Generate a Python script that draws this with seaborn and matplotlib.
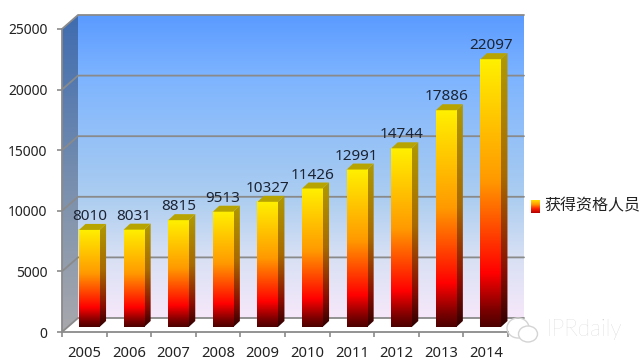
# bar chart of qualified people per year, drawn to look like a 3d excel chart
import numpy as np
import matplotlib
matplotlib.use('Agg')
import matplotlib.pyplot as plt
from matplotlib.colors import LinearSegmentedColormap
from matplotlib.patches import Polygon, Ellipse
from matplotlib.transforms import IdentityTransform
import seaborn as sns

# chart data
years = ['2005', '2006', '2007', '2008', '2009', '2010', '2011', '2012', '2013', '2014']
people = [8010, 8031, 8815, 9513, 10327, 11426, 12991, 14744, 17886, 22097]
y_ticks = [0, 5000, 10000, 15000, 20000, 25000]
legend_label = '获得资格人员'

sns.set_theme(style='white')
plt.rcParams['font.family'] = ['Noto Sans', 'Noto Sans CJK SC', 'DejaVu Sans']

W, H = 642, 362
fig = plt.figure(figsize=(W / 100, H / 100), dpi=100, facecolor='white')
ax = fig.add_axes([62 / W, 1 - 332 / H, 446 / W, 303 / H])
ax.patch.set_visible(False)

GRID = '#8a8a8a'
back_dx, back_dy = 16, 14   # back wall offset in pixels
bar_dx, bar_dy = 5, 5       # bars stand a bit behind the front edge
side_dx, side_dy = 6.5, 6   # depth of each bar

face = LinearSegmentedColormap.from_list('face', [(0, '#4d0000'), (0.06, '#7a0000'), (0.2, '#ff0000'),
                                                  (0.55, '#ff9a00'), (1, '#fff000')])
side = LinearSegmentedColormap.from_list('side', [(0, '#2e0000'), (0.2, '#8a0c00'),
                                                  (0.55, '#a86a00'), (1, '#b09a00')])
wall = LinearSegmentedColormap.from_list('wall', [(0, '#f6e8fa'), (0.2, '#d8e0f4'), (0.4, '#abcdf0'),
                                                  (0.8, '#7db4ff'), (1, '#5b9bff')])
left_wall = LinearSegmentedColormap.from_list('left_wall', [(0, '#a8a8ac'), (0.4, '#7f93ae'), (1, '#3f6cb0')])
grad = np.linspace(1, 0, 256).reshape(-1, 1)

sns.barplot(x=years, y=people, color='#ff9a00', width=0.46, ax=ax, zorder=3)
ax.set_xlim(-0.5, 9.5)
ax.set_ylim(0, 25000)
ax.set_xlabel('')
ax.set_ylabel('')


def px(x, y, dx=0, dy=0):
    p = ax.transData.transform((x, y))
    return p[0] + dx, p[1] + dy


def gradient(cmap, x0, x1, y0, y1, z, clip=None):
    im = ax.imshow(grad, cmap=cmap, vmin=0, vmax=1, extent=(x0, x1, y0, y1), aspect='auto',
                   transform=IdentityTransform(), zorder=z)
    if clip is not None:
        im.set_clip_path(clip)
        im.set_clip_box(fig.bbox)  # otherwise the image stops at the axes box
    else:
        im.set_clip_on(False)
    return im


def poly(points, z, **kw):
    p = Polygon(points, closed=True, transform=IdentityTransform(), zorder=z, clip_on=False, **kw)
    ax.add_patch(p)
    return p


# walls
x0, y0 = px(-0.5, 0)
x1, y1 = px(9.5, 25000)
gradient(wall, x0 + back_dx, x1 + back_dx, y0 + back_dy, y1 + back_dy, 0)
lw_clip = poly([(x0, y0), (x0 + back_dx, y0 + back_dy), (x0 + back_dx, y1 + back_dy), (x0, y1)], 0,
               facecolor='none', edgecolor='none')
gradient(left_wall, x0, x0 + back_dx, y0, y1 + back_dy, 0.1, clip=lw_clip)

# floor
poly([(x0, y0), (x0 + back_dx, y0 + back_dy), (x1 + back_dx, y0 + back_dy), (x1, y0)], 0.2,
     facecolor='white', edgecolor='none')

# gridlines on back wall and left wall
for t in y_ticks:
    _, yy = px(0, t)
    ax.plot([x0, x0 + back_dx, x1 + back_dx], [yy, yy + back_dy, yy + back_dy], color=GRID, lw=1.3,
            transform=IdentityTransform(), zorder=0.5, clip_on=False)

# bars, gradient on the front and darker faces on the side and top
for patch, value in zip(ax.patches, people):
    xc = patch.get_x() + patch.get_width() / 2
    patch.set_visible(False)
    l, b = px(patch.get_x(), 0, bar_dx, bar_dy)
    r, t = px(patch.get_x() + patch.get_width(), value, bar_dx, bar_dy)
    gradient(face, l, r, b, t, 3)
    side_clip = poly([(r, b), (r + side_dx, b + side_dy), (r + side_dx, t + side_dy), (r, t)], 2.9,
                     facecolor='none', edgecolor='none')
    gradient(side, r, r + side_dx, b, t + side_dy, 2.8, clip=side_clip)
    poly([(l, t), (l + side_dx, t + side_dy), (r + side_dx, t + side_dy), (r, t)], 3.1,
         facecolor='#b8a400', edgecolor='none')
    ax.annotate(str(value), (xc, value), xytext=(bar_dx, 15), textcoords='offset pixels', ha='center',
                va='baseline', fontsize=11, color='#1c2434', zorder=5, annotation_clip=False)

# axes
sns.despine(ax=ax, top=True, right=True)
for s in ['left', 'bottom']:
    ax.spines[s].set_color(GRID)
    ax.spines[s].set_linewidth(1.3)
    ax.spines[s].set_zorder(1)
ax.set_yticks(y_ticks)
ax.set_xticks(np.arange(-0.5, 10, 1), minor=True)
ax.set_xticks(range(len(years)))
ax.set_xticklabels(years)
ax.tick_params(axis='y', which='major', left=True, length=3.6, width=1.2, color=GRID, labelsize=10,
               labelcolor='#222222', pad=6.8)
ax.tick_params(axis='x', which='major', bottom=False, labelsize=10.6, labelcolor='#222222', pad=4)
ax.tick_params(axis='x', which='minor', bottom=True, length=3.6, width=1.2, color=GRID)

# legend
sw = fig.add_axes([531 / W, 1 - 213 / H, 9 / W, 13 / H])
sw.imshow(grad, cmap=LinearSegmentedColormap.from_list('sw', ['#b00000', '#ff2000', '#ff9a00', '#ffe000']),
          vmin=0, vmax=1, aspect='auto')
sw.axis('off')
fig.text(544 / W, 1 - 206 / H, legend_label, fontsize=11.5, color='#222222', va='center', ha='left',
         family=['Noto Sans CJK SC', 'DejaVu Sans'])

# watermark
fig.text(546 / W, 1 - 330 / H, 'IPRdaily', fontsize=16.5, color='#c9c9c9', va='center', ha='left',
         family='Lato', fontweight='light')
fig.add_artist(Ellipse((518, H - 328), 22, 20, transform=IdentityTransform(), facecolor='none',
                       edgecolor='#d4d4d4', lw=1))
fig.add_artist(Ellipse((528, H - 334), 19, 16, transform=IdentityTransform(), facecolor='white',
                       edgecolor='#d4d4d4', lw=1))

fig.savefig('out.png', dpi=100)
